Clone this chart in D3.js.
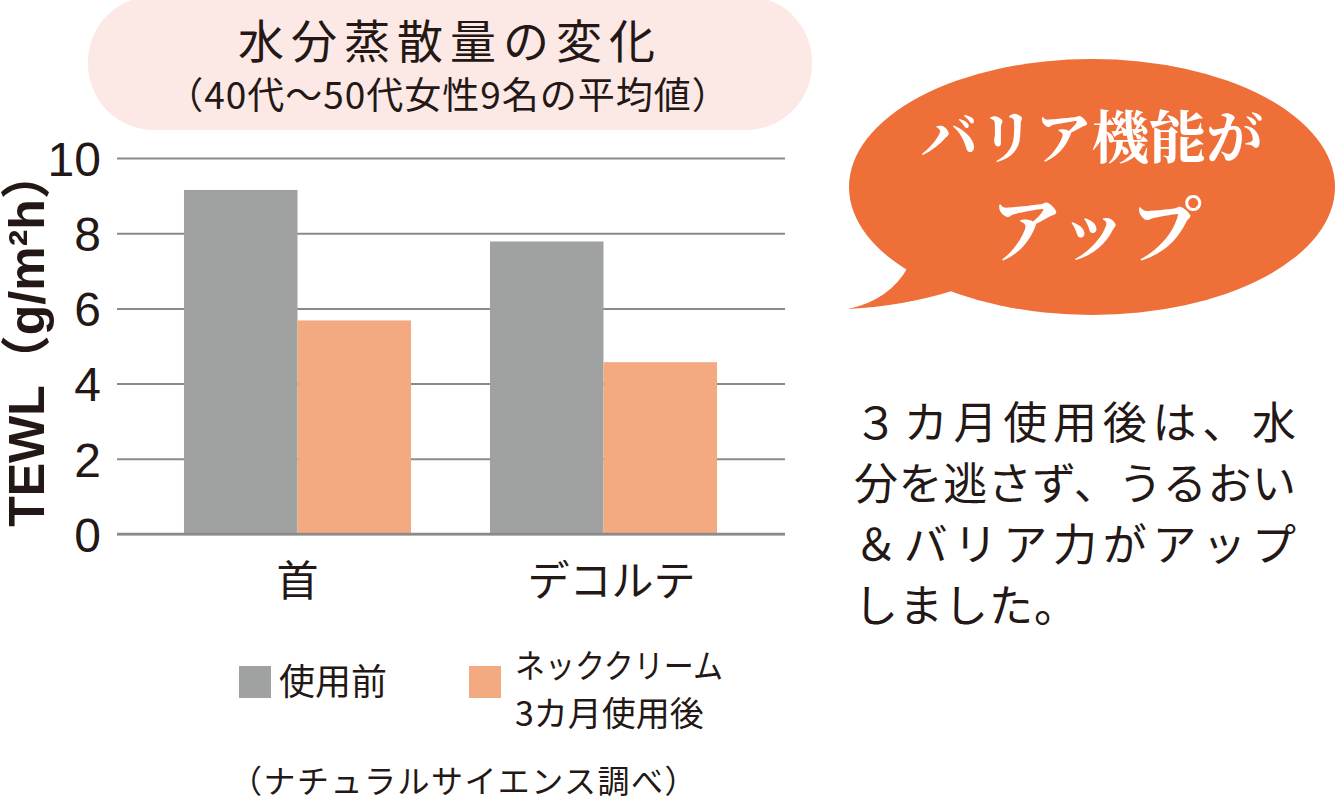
<!DOCTYPE html>
<html>
<head>
<meta charset="utf-8">
<script src="https://cdn.jsdelivr.net/npm/d3@7"></script>
<style>
  body { margin: 0; background: #fff; }
  svg { display: block; }
  text { font-family: "Noto Sans CJK JP", "Noto Sans", sans-serif; fill: #231815; }
</style>
</head>
<body>
<div id="chart"></div>
<script>
var categories = ["首", "デコルテ"];
var seriesNames = ["使用前", "ネッククリーム3カ月使用後"];
var beforeValues = [9.15, 7.78];
var afterValues = [5.68, 4.57];
var yTicks = [0, 2, 4, 6, 8, 10];
var bodyLines = ["３カ月使用後は、水", "分を逃さず、うるおい", "＆バリア力がアップ", "しました。"];

var colors = {"使用前": "#a0a2a1", "ネッククリーム3カ月使用後": "#f4aa80"};

var width = 1335, height = 804;

var svg = d3.select("#chart")
    .append("svg")
    .attr("width", width)
    .attr("height", height);

// title pill
svg.append("rect")
    .attr("x", 88).attr("y", -4)
    .attr("width", 724).attr("height", 134)
    .attr("rx", 66).attr("ry", 66)
    .attr("fill", "#fce9e6");

svg.append("text")
    .attr("x", 450).attr("y", 58)
    .attr("text-anchor", "middle")
    .style("font-size", "46px")
    .style("letter-spacing", "7px")
    .text("水分蒸散量の変化");

svg.append("text")
    .attr("x", 448).attr("y", 109)
    .attr("text-anchor", "middle")
    .style("font-size", "37px")
    .style("letter-spacing", "1px")
    .text("（40代〜50代女性9名の平均値）");

// scales
var y = d3.scaleLinear()
    .domain([0, 10])
    .range([534, 158]);

var x0 = d3.scaleBand()
    .domain(categories)
    .range([144.5, 756.5])
    .paddingInner(0.258)
    .paddingOuter(0.129);

var x1 = d3.scaleBand()
    .domain(seriesNames)
    .range([0, x0.bandwidth()]);

// gridlines + tick labels
var yAxis = d3.axisLeft(y)
    .tickValues(yTicks)
    .tickSize(-668)
    .tickPadding(16)
    .tickFormat(d3.format("d"));

var gAxis = svg.append("g")
    .attr("transform", "translate(117,0)")
    .call(yAxis);

gAxis.select(".domain").remove();
gAxis.selectAll(".tick line")
    .attr("stroke", "#8a8a8a")
    .attr("stroke-width", 2);
gAxis.selectAll(".tick text")
    .attr("x", -16)
    .attr("dy", "0.36em")
    .style("font-family", "'Liberation Sans Narrow', 'Liberation Sans', sans-serif")
    .style("font-size", "48px")
    .style("font-weight", "300")
    .style("fill", "#231815");

// bars
var groups = svg.selectAll("g.group")
    .data(categories)
    .enter()
    .append("g")
    .attr("class", "group")
    .attr("transform", function(d) { return "translate(" + x0(d) + ",0)"; });

groups.selectAll("rect")
    .data(function(d, i) {
        return [
            {key: seriesNames[0], value: beforeValues[i]},
            {key: seriesNames[1], value: afterValues[i]}
        ];
    })
    .enter()
    .append("rect")
    .attr("x", function(d) { return x1(d.key); })
    .attr("y", function(d) { return y(d.value); })
    .attr("width", x1.bandwidth())
    .attr("height", function(d) { return y(0) - y(d.value); })
    .attr("fill", function(d) { return colors[d.key]; });

// zero line on top of bars
svg.append("line")
    .attr("x1", 117).attr("x2", 785)
    .attr("y1", y(0)).attr("y2", y(0))
    .attr("stroke", "#8a8a8a")
    .attr("stroke-width", 2.5);

// category labels
svg.selectAll("text.cat")
    .data(categories)
    .enter()
    .append("text")
    .attr("class", "cat")
    .attr("x", function(d, i) { return x0(d) + x0.bandwidth() / 2 + (i == 1 ? 8 : 0); })
    .attr("y", 596)
    .attr("text-anchor", "middle")
    .style("font-size", "42px")
    .text(function(d) { return d; });

// y axis title
svg.append("text")
    .attr("transform", "translate(44,338) rotate(-90)")
    .attr("text-anchor", "middle")
    .style("font-family", "'Liberation Sans', 'Noto Sans CJK JP', sans-serif")
    .style("font-size", "50px")
    .style("font-weight", "bold")
    .text("TEWL（g/m²h）");

// legend
var legend = svg.append("g").attr("class", "legend");

legend.append("rect")
    .attr("x", 239).attr("y", 666)
    .attr("width", 32).attr("height", 32)
    .attr("fill", colors[seriesNames[0]]);
legend.append("text")
    .attr("x", 279).attr("y", 695)
    .style("font-size", "36px")
    .text("使用前");

legend.append("rect")
    .attr("x", 469).attr("y", 666)
    .attr("width", 32).attr("height", 32)
    .attr("fill", colors[seriesNames[1]]);
legend.append("text")
    .attr("x", 515).attr("y", 678)
    .style("font-size", "33px")
    .attr("textLength", 208)
    .attr("lengthAdjust", "spacingAndGlyphs")
    .text("ネッククリーム");
legend.append("text")
    .attr("x", 515).attr("y", 726)
    .style("font-size", "34px")
    .text("3カ月使用後");

svg.append("text")
    .attr("x", 230).attr("y", 793)
    .style("font-size", "32px")
    .style("letter-spacing", "1.5px")
    .text("（ナチュラルサイエンス調べ）");

// speech bubble
svg.append("path")
    .attr("d", "M 908 267 Q 890 300 848 309 Q 905 306 955 290 Z")
    .attr("fill", "#ee6f38");
svg.append("ellipse")
    .attr("cx", 1092).attr("cy", 187)
    .attr("rx", 243).attr("ry", 128)
    .attr("fill", "#ee6f38");

svg.append("text")
    .attr("x", 1092).attr("y", 158)
    .attr("text-anchor", "middle")
    .style("font-family", "'Noto Serif CJK JP', serif, 'Noto Sans CJK JP'")
    .style("font-size", "57px")
    .style("font-weight", "bold")
    .style("fill", "#fff")
    .text("バリア機能が");

svg.append("text")
    .attr("x", 1096).attr("y", 256)
    .attr("text-anchor", "middle")
    .style("font-family", "'Noto Serif CJK JP', serif, 'Noto Sans CJK JP'")
    .style("font-size", "72px")
    .style("font-weight", "bold")
    .style("fill", "#fff")
    .text("アップ");

// body text
svg.selectAll("text.body")
    .data(bodyLines)
    .enter()
    .append("text")
    .attr("class", "body")
    .attr("x", 854)
    .attr("y", function(d, i) { return 439 + i * 61; })
    .style("font-size", "44px")
    .each(function(d, i) {
        if (i < 3) {
            d3.select(this)
                .attr("textLength", 442)
                .attr("lengthAdjust", "spacing");
        } else {
            d3.select(this).style("letter-spacing", "1px");
        }
    })
    .text(function(d) { return d; });
</script>
</body>
</html>
